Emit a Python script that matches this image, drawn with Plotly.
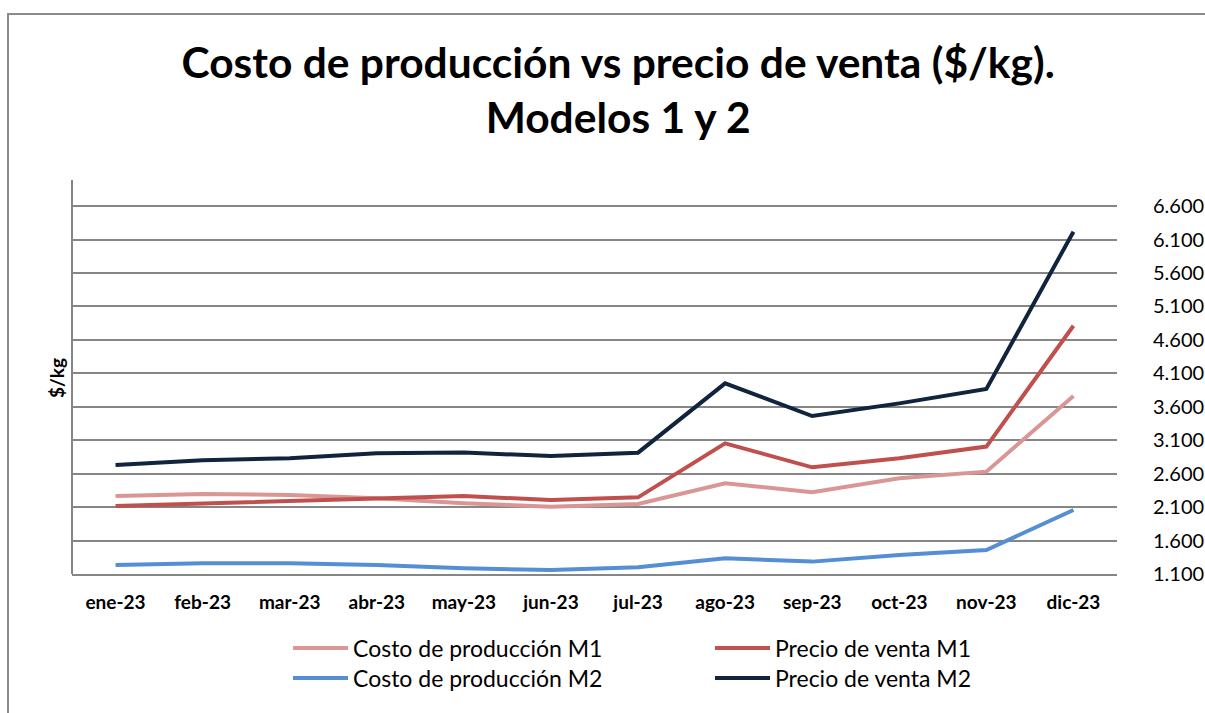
import plotly.graph_objects as go

meses = ["ene-23", "feb-23", "mar-23", "abr-23", "may-23", "jun-23",
         "jul-23", "ago-23", "sep-23", "oct-23", "nov-23", "dic-23"]
costo_m1 = [2266, 2296, 2281, 2232, 2157, 2107, 2146, 2456, 2321, 2530, 2630, 3761]
precio_m1 = [2116, 2157, 2191, 2232, 2266, 2206, 2246, 3054, 2695, 2830, 3005, 4811]
costo_m2 = [1235, 1260, 1260, 1235, 1185, 1160, 1200, 1335, 1285, 1384, 1459, 2057]
precio_m2 = [2729, 2800, 2830, 2905, 2915, 2864, 2914, 3950, 3462, 3651, 3865, 6217]
y_ticks = [1100, 1600, 2100, 2600, 3100, 3600, 4100, 4600, 5100, 5600, 6100, 6600]
y_tick_text = ["1.100", "1.600", "2.100", "2.600", "3.100", "3.600",
               "4.100", "4.600", "5.100", "5.600", "6.100", "6.600"]

series = [
    ("Costo de producción M1", costo_m1, "#D99694", "legend"),
    ("Precio de venta M1", precio_m1, "#C0504D", "legend2"),
    ("Costo de producción M2", costo_m2, "#558ED5", "legend3"),
    ("Precio de venta M2", precio_m2, "#10243E", "legend4"),
]

fig = go.Figure()
for name, vals, color, lg in series:
    fig.add_trace(go.Scatter(x=meses, y=vals, mode="lines", name=name, legend=lg,
                             line=dict(color=color, width=4)))

FONT = "Lato, Calibri, sans-serif"
PW, PH = 1045, 394  # plot area size in px


def px_x(px):
    return (px - 72) / PW


def px_y(py):
    return (574 - py) / PH


def leg(xp, yp):
    return dict(orientation="h", x=px_x(xp), xanchor="left", y=px_y(yp), yanchor="middle",
                font=dict(size=23, family=FONT, color="black"),
                itemwidth=55, bgcolor="rgba(0,0,0,0)")


fig.update_layout(
    width=1205, height=713,
    paper_bgcolor="white", plot_bgcolor="white",
    margin=dict(l=72, r=88, t=180, b=139, autoexpand=False),
    font=dict(family=FONT, color="black"),
    title=dict(text="<b>Costo de producción vs precio de venta ($/kg).<br>Modelos 1 y 2</b>",
               x=0.513, xanchor="center", xref="container",
               y=1 - 78 / 713, yanchor="middle", yref="container",
               font=dict(size=42.5, family=FONT, color="black")),
    showlegend=True,
    legend=leg(288, 648),
    legend2=leg(710, 648),
    legend3=leg(288, 678),
    legend4=leg(710, 678),
    xaxis=dict(type="category", range=[-0.5, 11.5], showgrid=False,
               showline=True, linecolor="#868686", linewidth=2,
               ticks="", ticklabelstandoff=10,
               tickfont=dict(size=19, family=FONT, color="black"),
               tickprefix="<b>", ticksuffix="</b>", zeroline=False),
    yaxis=dict(side="right", range=[1100, 6990], tickvals=y_ticks, ticktext=y_tick_text,
               showgrid=True, gridcolor="#868686", gridwidth=2,
               showline=False, zeroline=False, ticks="",
               ticklabelstandoff=35,
               tickfont=dict(size=20, family=FONT, color="black")),
    shapes=[
        dict(type="line", xref="paper", yref="paper", x0=0, x1=0, y0=0, y1=1,
             line=dict(color="#868686", width=2)),
        dict(type="rect", xref="paper", yref="paper",
             x0=px_x(8), x1=px_x(1215), y0=px_y(725), y1=px_y(14),
             line=dict(color="#8c8c8c", width=2), layer="below"),
    ],
    annotations=[
        dict(text="<b>$/kg</b>", xref="paper", yref="paper", x=px_x(56), y=px_y(378),
             xanchor="center", yanchor="middle", textangle=-90, showarrow=False,
             font=dict(size=19, family=FONT, color="black")),
    ],
)

fig.write_html("out.html", config={"displayModeBar": False},
               post_script="document.body.style.margin='0px';document.body.style.overflow='hidden';")
